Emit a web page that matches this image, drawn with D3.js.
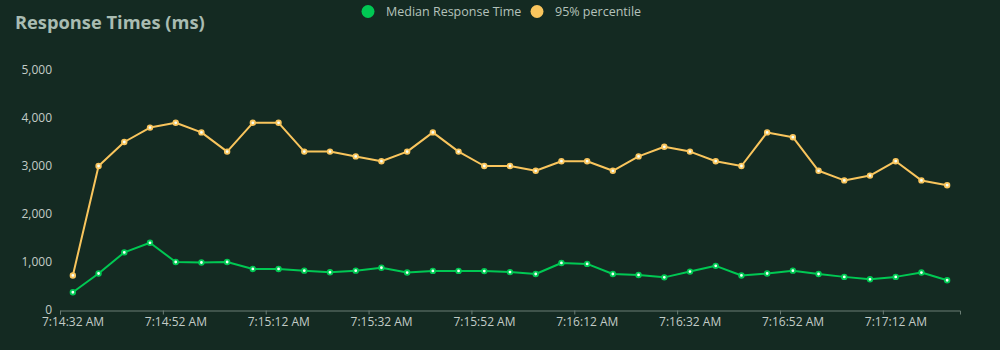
<!DOCTYPE html>
<html>
<head>
<meta charset="utf-8">
<script src="https://cdn.jsdelivr.net/npm/d3@7"></script>
<style>
  html, body { margin: 0; padding: 0; background: #142a22; }
  svg { display: block; }
</style>
</head>
<body>
<svg id="chart" width="1000" height="350"></svg>
<script>
// ---- data ----
const startTime = "2024-01-01T07:14:34.5";
const stepSeconds = 5;
const medianValues = [370, 760, 1200, 1400, 1000, 990, 1000, 855, 855, 820, 785, 820, 880,
  780, 815, 815, 810, 790, 750, 980, 960, 750, 730, 680, 800, 920, 720, 760, 820, 750, 690, 640, 690, 780, 620];
const p95Values = [720, 3000, 3500, 3800, 3900, 3700, 3300, 3900, 3900, 3300, 3300, 3200, 3100,
  3300, 3700, 3300, 3000, 3000, 2900, 3100, 3100, 2900, 3200, 3400, 3300, 3100, 3000, 3700, 3600, 2900, 2700, 2800, 3100, 2700, 2600];
const seriesNames = ["Median Response Time", "95% percentile"];
const yTicks = [0, 1000, 2000, 3000, 4000, 5000];
const xDomain = ["2024-01-01T07:14:32", "2024-01-01T07:17:27"];
const xTickTimes = ["07:14:32", "07:14:52", "07:15:12", "07:15:32", "07:15:52", "07:16:12", "07:16:32", "07:16:52", "07:17:12"];
const title = "Response Times (ms)";

// ---- setup ----
const colors = ["#00c853", "#f9c55d"];
const textColor = "#c3ccc7";
const font = "'Open Sans', 'Noto Sans', sans-serif";
const svg = d3.select("#chart");

const t0 = new Date(startTime).getTime();
const times = medianValues.map((_, i) => new Date(t0 + i * stepSeconds * 1000));

const x = d3.scaleTime()
  .domain(xDomain.map(s => new Date(s)))
  .range([60, 960]);
const y = d3.scaleLinear().domain([0, 5000]).range([310, 70]);

// title
svg.append("text")
  .attr("x", 15).attr("y", 29)
  .attr("font-family", font).attr("font-size", 18.3).attr("font-weight", 700)
  .attr("fill", "#a9bcb2")
  .text(title);

// legend
const legendItems = [
  { name: seriesNames[0], color: colors[0], cx: 368 },
  { name: seriesNames[1], color: colors[1], cx: 537 }
];
const lg = svg.append("g");
legendItems.forEach(it => {
  lg.append("circle").attr("cx", it.cx).attr("cy", 11.5).attr("r", 6.5).attr("fill", it.color);
  lg.append("text").attr("x", it.cx + 18).attr("y", 16)
    .attr("font-family", font).attr("font-size", 12.5).attr("fill", "#b4c2bb")
    .text(it.name);
});

// y axis (labels only)
const yAxis = d3.axisLeft(y).tickValues(yTicks).tickSize(0).tickPadding(8)
  .tickFormat(d3.format(","));
const yg = svg.append("g").attr("transform", "translate(60,0)").call(yAxis);
yg.select(".domain").remove();
yg.selectAll("text").attr("font-family", font).attr("font-size", 12).attr("fill", textColor);

// x axis
const xTicks = xTickTimes.map(s => new Date("2024-01-01T" + s));
const xAxis = d3.axisBottom(x).tickValues(xTicks).tickSize(4).tickSizeOuter(4).tickPadding(3)
  .tickFormat(d3.timeFormat("%-I:%M:%S %p"));
const xg = svg.append("g").attr("transform", "translate(0,310.5)").call(xAxis);
xg.select(".domain").attr("stroke", "#6b7d75");
xg.selectAll(".tick line").attr("stroke", "#6b7d75");
xg.selectAll("text").attr("font-family", font).attr("font-size", 12).attr("fill", textColor)
  .attr("dx", 12.5);

// lines
const series = [medianValues, p95Values];
const line = d3.line().x((d, i) => x(times[i])).y(d => y(d));
[1, 0].forEach(k => {
  const vals = series[k];
  svg.append("path").datum(vals)
    .attr("d", line)
    .attr("fill", "none").attr("stroke", colors[k]).attr("stroke-width", 2)
    .attr("stroke-linejoin", "round");
  svg.append("g").selectAll("circle").data(vals).join("circle")
    .attr("cx", (d, i) => x(times[i])).attr("cy", d => y(d))
    .attr("r", 2.3)
    .attr("fill", "#f4fff8")
    .attr("stroke", colors[k]).attr("stroke-width", 1.8);
});
</script>
</body>
</html>
